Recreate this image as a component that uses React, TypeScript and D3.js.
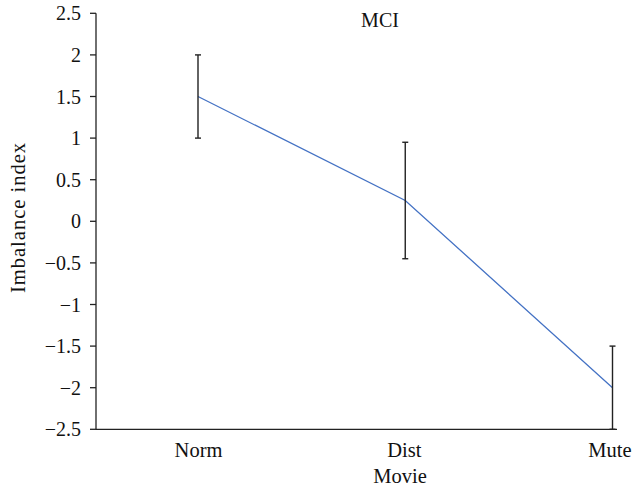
import React from "react";
import * as d3 from "d3";

const categories = ["Norm", "Dist", "Mute"];
const means = [1.5, 0.25, -2.0];
const errLow = [1.0, -0.45, -2.5];
const errHigh = [2.0, 0.95, -1.5];
const yTicks = [2.5, 2, 1.5, 1, 0.5, 0, -0.5, -1, -1.5, -2, -2.5];

const W = 634;
const H = 487;
const axisX = 96;
const axisRight = 617;

export default function App() {
  const x = d3.scalePoint<string>().domain(categories).range([198, 612.5]);
  const xLabel = d3.scalePoint<string>().domain(categories).range([198.5, 610]);
  const y = d3.scaleLinear().domain([-2.5, 2.5]).range([429.3, 13.3]);
  const line = d3
    .line<number>()
    .x((_, i) => x(categories[i]) as number)
    .y((d) => y(d));
  const fmt = (v: number) => (v < 0 ? "\u2212" + String(Math.abs(v)) : String(v));
  const font = "'Liberation Serif', 'Times New Roman', serif";
  return (
    <svg
      width={W}
      height={H}
      style={{ position: "absolute", left: 0, top: 0, background: "#fff" }}
      fontFamily={font}
    >
      {/* y axis */}
      <line x1={axisX} x2={axisX} y1={y(2.5)} y2={y(-2.5)} stroke="#222" strokeWidth={1.3} />
      {yTicks.map((t) => (
        <g key={t}>
          <line x1={axisX - 6} x2={axisX} y1={y(t)} y2={y(t)} stroke="#222" strokeWidth={1.3} />
          <text x={axisX - 15} y={y(t)} dy="0.35em" textAnchor="end" fontSize={20} fill="#111">
            {fmt(t)}
          </text>
        </g>
      ))}
      {/* x axis */}
      <line x1={axisX} x2={axisRight} y1={y(-2.5)} y2={y(-2.5)} stroke="#222" strokeWidth={1.3} />
      {categories.map((c) => (
        <text key={c} x={xLabel(c)} y={456.5} textAnchor="middle" fontSize={20.5} fill="#111">
          {c}
        </text>
      ))}
      {/* line */}
      <path d={line(means) || ""} fill="none" stroke="#4472C4" strokeWidth={1.3} />
      {/* error bars */}
      {categories.map((c, i) => {
        const cx = x(c) as number;
        return (
          <g key={c} stroke="#222" strokeWidth={1.4}>
            <line x1={cx} x2={cx} y1={y(errHigh[i])} y2={y(errLow[i])} />
            <line x1={cx - 3} x2={cx + 3} y1={y(errHigh[i])} y2={y(errHigh[i])} />
            <line x1={cx - 3} x2={cx + 3} y1={y(errLow[i])} y2={y(errLow[i])} />
          </g>
        );
      })}
      {/* title */}
      <text x={380} y={27} textAnchor="middle" fontSize={20} fill="#111">
        MCI
      </text>
      {/* axis titles */}
      <text x={400} y={483} textAnchor="middle" fontSize={20.5} fill="#111">
        Movie
      </text>
      <text
        transform={`translate(25, 218) rotate(-90)`}
        textAnchor="middle"
        fontSize={20.5}
        fill="#111"
        textLength={150}
        lengthAdjust="spacing"
      >
        Imbalance index
      </text>
    </svg>
  );
}
